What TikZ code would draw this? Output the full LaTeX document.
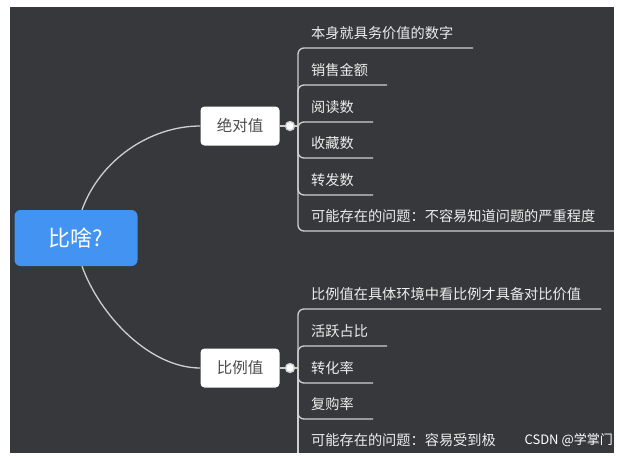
\documentclass[tikz,border=0pt]{standalone}
\usepackage{fontspec}
\setmainfont{Noto Sans CJK SC}
\begin{document}
\begin{tikzpicture}[x=1pt,y=-1pt,
  ln/.style={draw=lineg,line width=1.3pt},
  leaf/.style={anchor=west,text=txt,font=\fontsize{14.2}{14.2}\selectfont,inner sep=0pt},
  topic/.style={draw=none,fill=white,rounded corners=4pt,minimum width=79pt,minimum height=39pt,font=\fontsize{15.5}{15.5}\selectfont,text=black!70},
  dot/.style={circle,draw=lineg,fill=white,line width=1.3pt,minimum size=9pt,inner sep=0pt}]
\definecolor{bg}{HTML}{36383B}\definecolor{lineg}{HTML}{CFCFCF}\definecolor{txt}{HTML}{EDEDED}\definecolor{blu}{HTML}{4394F2}
\useasboundingbox (0,0) rectangle (618,459);
\fill[white] (0,0) rectangle (618,459);
\fill[bg] (10,7) rectangle (614,453);
\node[fill=blu,rounded corners=6pt,minimum width=123pt,minimum height=56pt,text=white,font=\fontsize{22}{22}\selectfont] (root) at (76,238) {比啥?};
\node[topic] (a) at (240,126) {绝对值};
\node[topic] (b) at (240,368) {比例值};
\node[dot] (da) at (290,126) {};
\node[dot] (db) at (290,368) {};
\draw[ln] (root.north)++(6,0) .. controls (100,160) and (150,126) .. (a.west);
\draw[ln] (root.south)++(6,0) .. controls (100,316) and (150,368) .. (b.west);
\draw[ln] (a.east) -- (da.west);
\draw[ln] (b.east) -- (db.west);
\coordinate (sa) at (298,126);
\coordinate (sb) at (298,368);
\draw[ln] (da.east) -- (sa);
\draw[ln] (db.east) -- (sb);
\foreach \y/\e/\t/\n in {48/473/本身就具务价值的数字/a1,85/387/销售金额/a2,122/373/阅读数/a3,158/373/收藏数/a4,195/373/转发数/a5,231/614/可能存在的问题：不容易知道问题的严重程度/a6}{
  \coordinate (\n) at (\e,\y);
  \draw[ln,rounded corners=6pt] (sa) |- (\n);
  \node[leaf] at (311,\y-15) {\t};
}
\foreach \y/\e/\t/\n in {309/601/比例值在具体环境中看比例才具备对比价值/b1,346/387/活跃占比/b2,383/373/转化率/b3,419/373/复购率/b4}{
  \coordinate (\n) at (\e,\y);
  \draw[ln,rounded corners=6pt] (sb) |- (\n);
  \node[leaf] at (311,\y-15) {\t};
}
\coordinate (b5) at (298,453);
\draw[ln] (sb) -- (b5);
\node[leaf] (last) at (311,440) {可能存在的问题：容易受到极};
\node[anchor=east,text=white,font=\fontsize{13}{13}\selectfont,inner sep=0pt] (wm) at (613,440) {CSDN @学掌门};
\end{tikzpicture}
\end{document}
